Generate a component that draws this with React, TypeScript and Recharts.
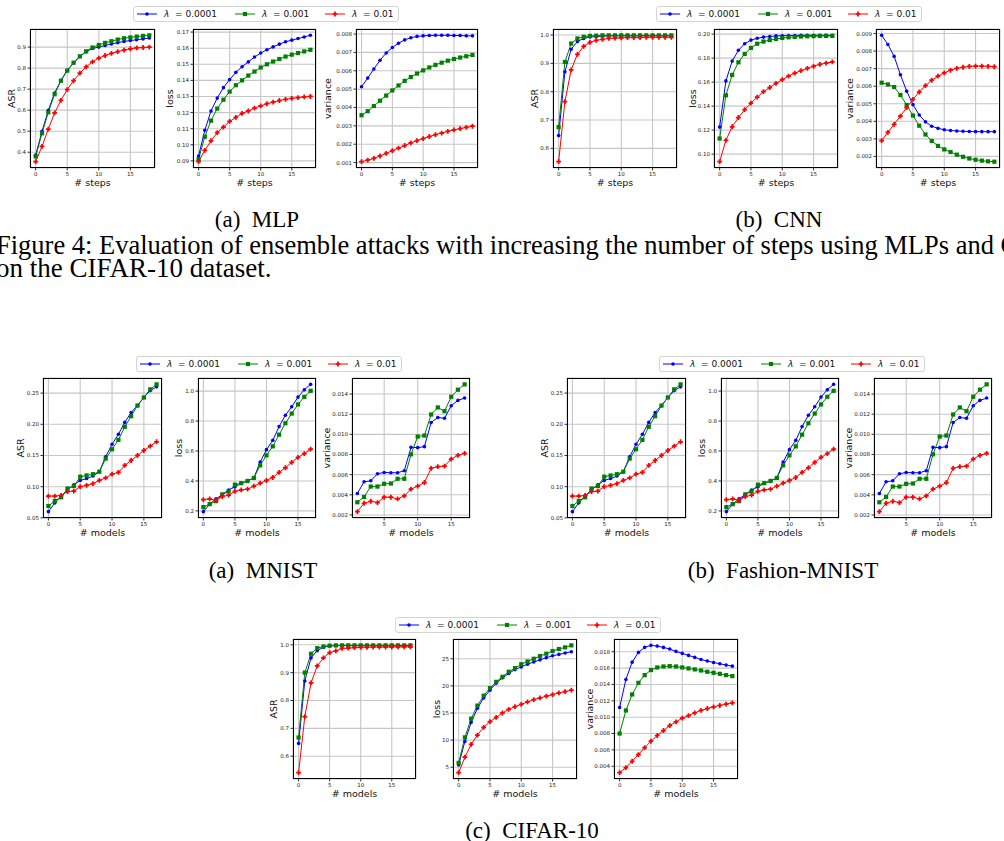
import React from "react";
import { LineChart, Line, XAxis, YAxis, CartesianGrid } from "recharts";

// x values
const STEPS = [0, 1, 2, 3, 4, 5, 6, 7, 8, 9, 10, 11, 12, 13, 14, 15, 16, 17, 18];
const MODELS = [0, 1, 2, 3, 4, 5, 6, 7, 8, 9, 10, 11, 12, 13, 14, 15, 16, 17];
const MODELS_FROM_ONE = [1, 2, 3, 4, 5, 6, 7, 8, 9, 10, 11, 12, 13, 14, 15, 16, 17];
const CIFAR_MODELS = [0, 1, 2, 3, 4, 5, 6, 7, 8, 9, 10, 11, 12, 13, 14, 15, 16, 17, 18];

const LAMBDAS = ["0.0001", "0.001", "0.01"];

// MLP (steps)
const mlpAsrB = [0.386, 0.499, 0.599, 0.682, 0.741, 0.79, 0.825, 0.855, 0.878, 0.893, 0.9, 0.908, 0.915, 0.921, 0.927, 0.931, 0.935, 0.939, 0.943];
const mlpAsrG = [0.38, 0.49, 0.59, 0.676, 0.74, 0.788, 0.826, 0.856, 0.88, 0.898, 0.91, 0.92, 0.928, 0.936, 0.942, 0.946, 0.95, 0.953, 0.956];
const mlpAsrR = [0.355, 0.428, 0.51, 0.587, 0.647, 0.698, 0.74, 0.776, 0.806, 0.83, 0.848, 0.86, 0.87, 0.878, 0.886, 0.892, 0.896, 0.898, 0.9];
const mlpLossB = [0.093, 0.109, 0.121, 0.129, 0.1355, 0.1405, 0.145, 0.1485, 0.1515, 0.1545, 0.157, 0.159, 0.1608, 0.1625, 0.164, 0.165, 0.166, 0.167, 0.168];
const mlpLossG = [0.091, 0.105, 0.115, 0.1225, 0.128, 0.133, 0.137, 0.14, 0.143, 0.1455, 0.148, 0.15, 0.1517, 0.1533, 0.1548, 0.156, 0.157, 0.158, 0.159];
const mlpLossR = [0.0895, 0.0965, 0.1025, 0.1075, 0.111, 0.1145, 0.117, 0.1195, 0.121, 0.1228, 0.1242, 0.1255, 0.1265, 0.1275, 0.1282, 0.1288, 0.1293, 0.1297, 0.13];
const mlpVarB = [0.00513, 0.0056, 0.0061, 0.00657, 0.00697, 0.00727, 0.0075, 0.00768, 0.0078, 0.00787, 0.0079, 0.00792, 0.00793, 0.00793, 0.00793, 0.00792, 0.00792, 0.0079, 0.0079];
const mlpVarG = [0.00358, 0.0038, 0.00408, 0.00437, 0.00465, 0.00493, 0.0052, 0.00545, 0.00566, 0.00585, 0.00602, 0.00618, 0.00632, 0.00644, 0.00655, 0.00664, 0.00672, 0.00679, 0.00686];
const mlpVarR = [0.00105, 0.00113, 0.00123, 0.00136, 0.0015, 0.00165, 0.00179, 0.00193, 0.00207, 0.0022, 0.00231, 0.00242, 0.00252, 0.00261, 0.0027, 0.00278, 0.00285, 0.00292, 0.00298];

// CNN (steps)
const cnnAsrB = [0.645, 0.87, 0.95, 0.977, 0.988, 0.993, 0.995, 0.996, 0.997, 0.997, 0.997, 0.997, 0.997, 0.997, 0.997, 0.997, 0.997, 0.997, 0.997];
const cnnAsrG = [0.675, 0.905, 0.97, 0.988, 0.994, 0.997, 0.998, 0.999, 0.999, 0.999, 0.999, 0.999, 0.999, 0.999, 0.999, 0.999, 0.999, 0.999, 0.999];
const cnnAsrR = [0.553, 0.765, 0.877, 0.932, 0.96, 0.974, 0.981, 0.985, 0.988, 0.989, 0.99, 0.991, 0.991, 0.991, 0.992, 0.992, 0.992, 0.992, 0.992];
const cnnLossB = [0.1225, 0.161, 0.1775, 0.1865, 0.192, 0.195, 0.1965, 0.1975, 0.198, 0.1985, 0.1987, 0.1988, 0.1989, 0.199, 0.199, 0.199, 0.199, 0.199, 0.199];
const cnnLossG = [0.113, 0.149, 0.166, 0.1765, 0.1835, 0.1885, 0.192, 0.1938, 0.195, 0.196, 0.1968, 0.1973, 0.1977, 0.198, 0.1982, 0.1983, 0.1984, 0.1985, 0.1985];
const cnnLossR = [0.0937, 0.1115, 0.1228, 0.1305, 0.137, 0.1425, 0.1475, 0.152, 0.1555, 0.159, 0.162, 0.165, 0.1675, 0.1695, 0.1715, 0.1732, 0.1748, 0.1758, 0.1768];
const cnnVarB = [0.0089, 0.00838, 0.0077, 0.00665, 0.00572, 0.00495, 0.00436, 0.00397, 0.00372, 0.0036, 0.00352, 0.00348, 0.00345, 0.00343, 0.00342, 0.00341, 0.00341, 0.00341, 0.00341];
const cnnVarG = [0.0062, 0.0061, 0.00595, 0.0055, 0.00493, 0.00433, 0.00375, 0.00325, 0.00288, 0.0026, 0.0024, 0.00225, 0.0021, 0.00198, 0.00188, 0.00181, 0.00176, 0.00172, 0.0017];
const cnnVarR = [0.0029, 0.00337, 0.00383, 0.0043, 0.00478, 0.00525, 0.00567, 0.00603, 0.00634, 0.00657, 0.00676, 0.00691, 0.00702, 0.00708, 0.00713, 0.00715, 0.00715, 0.00713, 0.00711];

// MNIST / Fashion-MNIST (models)
const mnAsrB = [0.06, 0.074, 0.085, 0.095, 0.103, 0.11, 0.113, 0.117, 0.124, 0.148, 0.168, 0.184, 0.203, 0.219, 0.23, 0.243, 0.254, 0.26];
const mnAsrG = [0.069, 0.077, 0.083, 0.097, 0.101, 0.116, 0.118, 0.12, 0.124, 0.145, 0.16, 0.175, 0.196, 0.213, 0.23, 0.243, 0.256, 0.264];
const mnAsrR = [0.085, 0.085, 0.086, 0.092, 0.093, 0.1, 0.102, 0.105, 0.11, 0.114, 0.12, 0.123, 0.134, 0.142, 0.15, 0.158, 0.165, 0.172];
const mnLossB = [0.195, 0.245, 0.28, 0.31, 0.34, 0.36, 0.385, 0.4, 0.42, 0.526, 0.609, 0.671, 0.763, 0.839, 0.895, 0.96, 1.009, 1.045];
const mnLossG = [0.225, 0.245, 0.265, 0.31, 0.33, 0.375, 0.385, 0.4, 0.42, 0.504, 0.571, 0.631, 0.709, 0.785, 0.85, 0.911, 0.962, 1.002];
const mnLossR = [0.275, 0.28, 0.27, 0.295, 0.305, 0.33, 0.34, 0.345, 0.365, 0.385, 0.403, 0.423, 0.457, 0.488, 0.524, 0.558, 0.582, 0.613];
const mnVarB = [0.00413, 0.00529, 0.00539, 0.00609, 0.00622, 0.00619, 0.00619, 0.00639, 0.00871, 0.00868, 0.00878, 0.01117, 0.01167, 0.0116, 0.01284, 0.01337, 0.0136];
const mnVarG = [0.00326, 0.00379, 0.00482, 0.00482, 0.00509, 0.00512, 0.00559, 0.00559, 0.00802, 0.00978, 0.00988, 0.01197, 0.01267, 0.0123, 0.01373, 0.01443, 0.01496];
const mnVarR = [0.00233, 0.00316, 0.00336, 0.00323, 0.00376, 0.00376, 0.00359, 0.00389, 0.00456, 0.00486, 0.00522, 0.00662, 0.00679, 0.00685, 0.00755, 0.00792, 0.00812];

// CIFAR-10 (models)
const cfAsrB = [0.646, 0.87, 0.953, 0.979, 0.9915, 0.996, 0.997, 0.997, 0.997, 0.997, 0.997, 0.997, 0.997, 0.997, 0.997, 0.997, 0.997, 0.997, 0.997];
const cfAsrG = [0.667, 0.9, 0.968, 0.988, 0.994, 0.997, 0.998, 0.998, 0.998, 0.998, 0.998, 0.998, 0.998, 0.998, 0.998, 0.998, 0.998, 0.998, 0.998];
const cfAsrR = [0.541, 0.742, 0.863, 0.924, 0.953, 0.972, 0.978, 0.987, 0.988, 0.99, 0.991, 0.991, 0.992, 0.992, 0.992, 0.992, 0.993, 0.993, 0.993];
const cfLossB = [5.43, 9.75, 13.27, 15.86, 17.78, 19.2, 20.5, 21.48, 22.28, 23.0, 23.5, 24.0, 24.4, 24.8, 25.2, 25.55, 25.8, 26.05, 26.3];
const cfLossG = [5.8, 10.5, 13.95, 16.36, 18.2, 19.6, 20.74, 21.67, 22.6, 23.27, 24.0, 24.5, 25.0, 25.5, 25.93, 26.42, 26.8, 27.1, 27.47];
const cfLossR = [4.0, 6.85, 9.2, 10.93, 12.35, 13.4, 14.2, 15.0, 15.68, 16.17, 16.6, 17.04, 17.47, 17.78, 18.1, 18.4, 18.7, 18.95, 19.2];
const cfVarB = [0.01118, 0.01461, 0.01673, 0.01792, 0.01853, 0.01878, 0.01869, 0.01853, 0.01833, 0.01804, 0.0178, 0.01755, 0.01731, 0.01706, 0.01686, 0.01669, 0.01653, 0.01637, 0.01624];
const cfVarG = [0.008, 0.01082, 0.01278, 0.0142, 0.01514, 0.01576, 0.01608, 0.0162, 0.01624, 0.0162, 0.01608, 0.01596, 0.01584, 0.01571, 0.01555, 0.01543, 0.0153, 0.01514, 0.01502];
const cfVarR = [0.00322, 0.00384, 0.00461, 0.00543, 0.00629, 0.00706, 0.00776, 0.00837, 0.00898, 0.00943, 0.00988, 0.0102, 0.01053, 0.01082, 0.01106, 0.01127, 0.01143, 0.01159, 0.01176];

// tick labels
const X_TICKS = [0, 5, 10, 15];
const X_TICKS_FROM_FIVE = [5, 10, 15];
const mlpAsrTicks = [0.4, 0.5, 0.6, 0.7, 0.8, 0.9];
const mlpLossTicks = [0.09, 0.1, 0.11, 0.12, 0.13, 0.14, 0.15, 0.16, 0.17];
const mlpVarTicks = [0.001, 0.002, 0.003, 0.004, 0.005, 0.006, 0.007, 0.008];
const cnnAsrTicks = [0.6, 0.7, 0.8, 0.9, 1.0];
const cnnLossTicks = [0.1, 0.12, 0.14, 0.16, 0.18, 0.2];
const cnnVarTicks = [0.002, 0.003, 0.004, 0.005, 0.006, 0.007, 0.008, 0.009];
const mnAsrTicks = [0.05, 0.1, 0.15, 0.2, 0.25];
const mnLossTicks = [0.2, 0.4, 0.6, 0.8, 1.0];
const mnVarTicks = [0.002, 0.004, 0.006, 0.008, 0.01, 0.012, 0.014];
const cfAsrTicks = [0.6, 0.7, 0.8, 0.9, 1.0];
const cfLossTicks = [5, 10, 15, 20, 25];
const cfVarTicks = [0.004, 0.006, 0.008, 0.01, 0.012, 0.014, 0.016, 0.018];

const FONT = "'DejaVu Sans', sans-serif";
const SERIF = "'Liberation Serif', 'Times New Roman', serif";
const BLUE = "#0000ff";
const GREEN = "#008000";
const RED = "#ff0000";

const PADL = 40;
const PADR = 4;
const PADT = 4;
const PADB = 24;

type Panel = {
  left: number;
  top: number;
  w: number;
  h: number;
  ylabel: string;
  xlabel: string;
  xs: number[];
  b: number[];
  g: number[];
  r: number[];
  yTicks: number[];
  xTicks: number[];
  dec: number;
  gap: number;
};

// matplotlib style autoscale: 5% margin on each side
function pad(vals: number[]): [number, number] {
  const lo = Math.min(...vals);
  const hi = Math.max(...vals);
  const m = (hi - lo) * 0.05;
  return [lo - m, hi + m];
}

function blueDot(props: any) {
  const { cx, cy, index } = props;
  if (cx == null || cy == null) return <g key={`b${index}`} />;
  return <circle key={`b${index}`} cx={cx} cy={cy} r={1.8} fill={BLUE} stroke="none" />;
}

function greenDot(props: any) {
  const { cx, cy, index } = props;
  if (cx == null || cy == null) return <g key={`g${index}`} />;
  return <rect key={`g${index}`} x={cx - 2.1} y={cy - 2.1} width={4.2} height={4.2} fill={GREEN} stroke="none" />;
}

function plusPath(cx: number, cy: number, s: number) {
  const a = s / 2;
  const t = s / 5.5;
  return `M${cx - t},${cy - a}H${cx + t}V${cy - t}H${cx + a}V${cy + t}H${cx + t}V${cy + a}H${cx - t}V${cy + t}H${cx - a}V${cy - t}H${cx - t}Z`;
}

function redDot(props: any) {
  const { cx, cy, index } = props;
  if (cx == null || cy == null) return <g key={`r${index}`} />;
  return <path key={`r${index}`} d={plusPath(cx, cy, 4.8)} fill={RED} stroke="none" />;
}

function SmallChart({ p }: { p: Panel }) {
  const data = p.xs.map((x, i) => ({ x, b: p.b[i], g: p.g[i], r: p.r[i] }));
  const xDom = pad(p.xs);
  const yDom = pad([...p.b, ...p.g, ...p.r]);
  const tickStyle = { fontSize: 5.5, fill: "#222", fontFamily: FONT };
  const labelStyle = { fontSize: 9.5, fill: "#111", fontFamily: FONT };
  return (
    <>
      <div style={{ position: "absolute", left: p.left - PADL, top: p.top - PADT }}>
        <LineChart
          width={p.w + PADL + PADR}
          height={p.h + PADT + PADB}
          data={data}
          margin={{ top: PADT, right: PADR, left: 0, bottom: 0 }}
        >
          <CartesianGrid stroke="#c6c6c6" strokeWidth={1.1} />
          <XAxis
            type="number"
            dataKey="x"
            domain={xDom}
            ticks={p.xTicks}
            interval={0}
            allowDataOverflow
            height={PADB}
            axisLine={false}
            tickSize={2.5}
            tickMargin={1.5}
            tickLine={{ stroke: "#000", strokeWidth: 0.8 }}
            tick={tickStyle}
            label={{ value: p.xlabel, position: "insideBottom", offset: PADB - 17.5, style: labelStyle }}
          />
          <YAxis
            type="number"
            domain={yDom}
            ticks={p.yTicks}
            interval={0}
            allowDataOverflow
            width={PADL}
            axisLine={false}
            tickSize={2.5}
            tickMargin={1.5}
            tickLine={{ stroke: "#000", strokeWidth: 0.8 }}
            tick={tickStyle}
            tickFormatter={(v: number) => v.toFixed(p.dec)}
            label={{
              value: p.ylabel,
              angle: -90,
              position: "insideLeft",
              offset: PADL - p.gap,
              style: { ...labelStyle, textAnchor: "middle" },
            }}
          />
          <Line dataKey="b" stroke={BLUE} strokeWidth={1} dot={blueDot} activeDot={false} isAnimationActive={false} />
          <Line dataKey="g" stroke={GREEN} strokeWidth={1} dot={greenDot} activeDot={false} isAnimationActive={false} />
          <Line dataKey="r" stroke={RED} strokeWidth={1} dot={redDot} activeDot={false} isAnimationActive={false} />
        </LineChart>
      </div>
      <div
        style={{
          position: "absolute",
          left: p.left,
          top: p.top,
          width: p.w,
          height: p.h,
          border: "1px solid #000",
          boxSizing: "border-box",
          pointerEvents: "none",
        }}
      />
    </>
  );
}

function LegendMarker({ i }: { i: number }) {
  if (i === 0) return <circle cx={10} cy={4} r={1.8} fill={BLUE} />;
  if (i === 1) return <rect x={7.9} y={1.9} width={4.2} height={4.2} fill={GREEN} />;
  return <path d={plusPath(10, 4, 4.8)} fill={RED} />;
}

const ENTRY_X = [3, 101, 191];
const COLORS = [BLUE, GREEN, RED];

function LambdaLegend({ left, top }: { left: number; top: number }) {
  return (
    <div
      style={{
        position: "absolute",
        left,
        top,
        width: 266,
        height: 16,
        border: "1px solid #d4d4d4",
        borderRadius: 3,
        boxSizing: "border-box",
        background: "#fff",
        fontFamily: FONT,
        fontSize: 9,
        color: "#111",
      }}
    >
      {LAMBDAS.map((lam, i) => (
        <div
          key={lam}
          style={{ position: "absolute", left: ENTRY_X[i], top: 0, height: 14, display: "flex", alignItems: "center" }}
        >
          <svg width={20} height={8} style={{ display: "block" }}>
            <line x1={0} y1={4} x2={20} y2={4} stroke={COLORS[i]} strokeWidth={1} />
            <LegendMarker i={i} />
          </svg>
          <span style={{ marginLeft: 7, whiteSpace: "pre", lineHeight: "14px" }}>
            <i>λ</i>
            {"  = " + lam}
          </span>
        </div>
      ))}
    </div>
  );
}

function Caption({ x, y, text, size = 23 }: { x: number; y: number; text: string; size?: number }) {
  return (
    <div
      style={{
        position: "absolute",
        left: x,
        top: y,
        transform: "translate(-50%, -50%)",
        fontFamily: SERIF,
        fontSize: size,
        lineHeight: 1,
        whiteSpace: "pre",
        color: "#000",
      }}
    >
      {text}
    </div>
  );
}

function CaptionLine({ top, text, size }: { top: number; text: string; size: number }) {
  return (
    <div
      style={{
        position: "absolute",
        left: -4,
        top,
        height: 23,
        fontFamily: SERIF,
        fontSize: size,
        lineHeight: "23px",
        whiteSpace: "pre",
        color: "#000",
      }}
    >
      {text}
    </div>
  );
}

const TOP_Y = 29;
const TOP_H = 139;
const MID_Y = 378;
const MID_H = 140;
const BOT_Y = 639;
const BOT_H = 140;

const panels: Panel[] = [
  { left: 30, top: TOP_Y, w: 125, h: TOP_H, ylabel: "ASR", xlabel: "# steps", xs: STEPS, b: mlpAsrB, g: mlpAsrG, r: mlpAsrR, yTicks: mlpAsrTicks, xTicks: X_TICKS, dec: 1, gap: 18 },
  { left: 193, top: TOP_Y, w: 123, h: TOP_H, ylabel: "loss", xlabel: "# steps", xs: STEPS, b: mlpLossB, g: mlpLossG, r: mlpLossR, yTicks: mlpLossTicks, xTicks: X_TICKS, dec: 2, gap: 23 },
  { left: 356, top: TOP_Y, w: 122, h: TOP_H, ylabel: "variance", xlabel: "# steps", xs: STEPS, b: mlpVarB, g: mlpVarG, r: mlpVarR, yTicks: mlpVarTicks, xTicks: X_TICKS, dec: 3, gap: 28 },
  { left: 553, top: TOP_Y, w: 124, h: TOP_H, ylabel: "ASR", xlabel: "# steps", xs: STEPS, b: cnnAsrB, g: cnnAsrG, r: cnnAsrR, yTicks: cnnAsrTicks, xTicks: X_TICKS, dec: 1, gap: 18 },
  { left: 714, top: TOP_Y, w: 124, h: TOP_H, ylabel: "loss", xlabel: "# steps", xs: STEPS, b: cnnLossB, g: cnnLossG, r: cnnLossR, yTicks: cnnLossTicks, xTicks: X_TICKS, dec: 2, gap: 21 },
  { left: 876, top: TOP_Y, w: 124, h: TOP_H, ylabel: "variance", xlabel: "# steps", xs: STEPS, b: cnnVarB, g: cnnVarG, r: cnnVarR, yTicks: cnnVarTicks, xTicks: X_TICKS, dec: 3, gap: 26 },
  { left: 43, top: MID_Y, w: 119, h: MID_H, ylabel: "ASR", xlabel: "# models", xs: MODELS, b: mnAsrB, g: mnAsrG, r: mnAsrR, yTicks: mnAsrTicks, xTicks: X_TICKS, dec: 2, gap: 22 },
  { left: 198, top: MID_Y, w: 118, h: MID_H, ylabel: "loss", xlabel: "# models", xs: MODELS, b: mnLossB, g: mnLossG, r: mnLossR, yTicks: mnLossTicks, xTicks: X_TICKS, dec: 1, gap: 19 },
  { left: 352, top: MID_Y, w: 118, h: MID_H, ylabel: "variance", xlabel: "# models", xs: MODELS_FROM_ONE, b: mnVarB, g: mnVarG, r: mnVarR, yTicks: mnVarTicks, xTicks: X_TICKS_FROM_FIVE, dec: 3, gap: 25 },
  { left: 567, top: MID_Y, w: 119, h: MID_H, ylabel: "ASR", xlabel: "# models", xs: MODELS, b: mnAsrB, g: mnAsrG, r: mnAsrR, yTicks: mnAsrTicks, xTicks: X_TICKS, dec: 2, gap: 22 },
  { left: 721, top: MID_Y, w: 118, h: MID_H, ylabel: "loss", xlabel: "# models", xs: MODELS, b: mnLossB, g: mnLossG, r: mnLossR, yTicks: mnLossTicks, xTicks: X_TICKS, dec: 1, gap: 19 },
  { left: 874, top: MID_Y, w: 118, h: MID_H, ylabel: "variance", xlabel: "# models", xs: MODELS_FROM_ONE, b: mnVarB, g: mnVarG, r: mnVarR, yTicks: mnVarTicks, xTicks: X_TICKS_FROM_FIVE, dec: 3, gap: 25 },
  { left: 293, top: BOT_Y, w: 123, h: BOT_H, ylabel: "ASR", xlabel: "# models", xs: CIFAR_MODELS, b: cfAsrB, g: cfAsrG, r: cfAsrR, yTicks: cfAsrTicks, xTicks: X_TICKS, dec: 1, gap: 19 },
  { left: 453, top: BOT_Y, w: 124, h: BOT_H, ylabel: "loss", xlabel: "# models", xs: CIFAR_MODELS, b: cfLossB, g: cfLossG, r: cfLossR, yTicks: cfLossTicks, xTicks: X_TICKS, dec: 0, gap: 16 },
  { left: 614, top: BOT_Y, w: 124, h: BOT_H, ylabel: "variance", xlabel: "# models", xs: CIFAR_MODELS, b: cfVarB, g: cfVarG, r: cfVarR, yTicks: cfVarTicks, xTicks: X_TICKS, dec: 3, gap: 24 },
];

export default function App() {
  return (
    <div
      style={{
        position: "absolute",
        left: 0,
        top: 0,
        width: 1004,
        height: 841,
        background: "#fff",
        overflow: "hidden",
      }}
    >
      {panels.map((p, i) => (
        <SmallChart key={i} p={p} />
      ))}

      <LambdaLegend left={133} top={6} />
      <LambdaLegend left={656} top={6} />
      <LambdaLegend left={136} top={356} />
      <LambdaLegend left={659} top={356} />
      <LambdaLegend left={395} top={617} />

      <Caption x={257} y={219} text="(a)  MLP" />
      <Caption x={779} y={219} text="(b)  CNN" />
      <CaptionLine
        top={233.5}
        size={26.5}
        text="Figure 4: Evaluation of ensemble attacks with increasing the number of steps using MLPs and CNNs"
      />
      <CaptionLine top={256.5} size={27} text="on the CIFAR-10 dataset." />
      <Caption x={263} y={570} text="(a)  MNIST" />
      <Caption x={783} y={570} text="(b)  Fashion-MNIST" />
      <Caption x={532} y={830} text="(c)  CIFAR-10" />
    </div>
  );
}
